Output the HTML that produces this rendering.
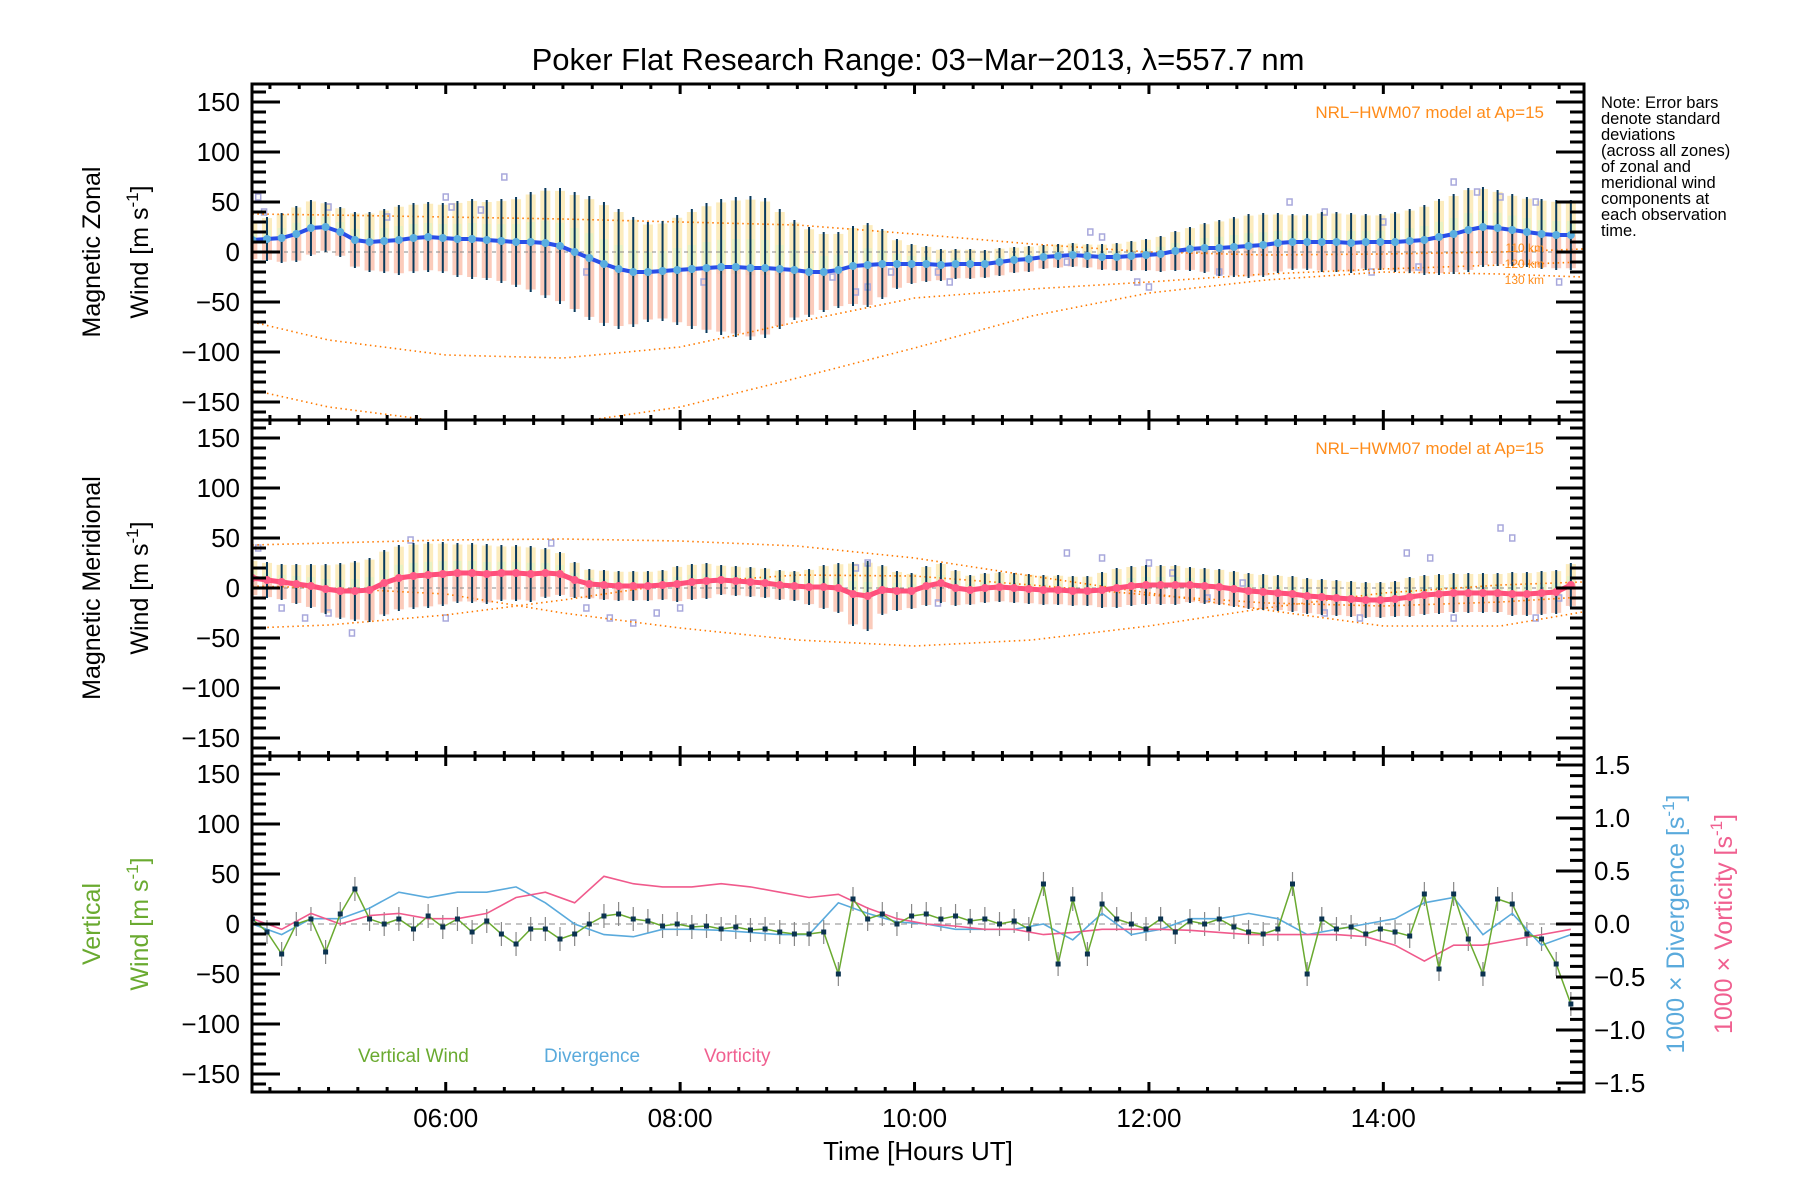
<!DOCTYPE html>
<html>
<head>
<meta charset="utf-8">
<style>
html,body{margin:0;padding:0;background:#fff;}
svg{display:block;}
text{font-family:"Liberation Sans",sans-serif;}
</style>
</head>
<body>
<svg id="chart" xmlns="http://www.w3.org/2000/svg" width="1800" height="1200" viewBox="0 0 1800 1200">
<rect x="0" y="0" width="1800" height="1200" fill="#fff"/>
<defs>
<clipPath id="c0"><rect x="252" y="84" width="1332" height="336"/></clipPath>
<clipPath id="c1"><rect x="252" y="420" width="1332" height="336"/></clipPath>
<clipPath id="c2"><rect x="252" y="756" width="1332" height="336"/></clipPath>
</defs>
<text x="918" y="70" font-size="31" text-anchor="middle">Poker Flat Research Range: 03−Mar−2013, λ=557.7 nm</text>
<g id="marks0" clip-path="url(#c0)"></g>
<g id="marks1" clip-path="url(#c1)"></g>
<g id="marks2" clip-path="url(#c2)"></g>
<g id="axes"></g>
<text transform="translate(100,252) rotate(-90)" font-size="25" text-anchor="middle">Magnetic Zonal</text>
<text transform="translate(148,252) rotate(-90)" font-size="25" text-anchor="middle">Wind [m s<tspan dy="-10" font-size="17">-1</tspan><tspan dy="10">]</tspan></text>
<text transform="translate(100,588) rotate(-90)" font-size="25" text-anchor="middle">Magnetic Meridional</text>
<text transform="translate(148,588) rotate(-90)" font-size="25" text-anchor="middle">Wind [m s<tspan dy="-10" font-size="17">-1</tspan><tspan dy="10">]</tspan></text>
<text transform="translate(100,924) rotate(-90)" font-size="25" text-anchor="middle" fill="#6aaa30">Vertical</text>
<text transform="translate(148,924) rotate(-90)" font-size="25" text-anchor="middle" fill="#6aaa30">Wind [m s<tspan dy="-10" font-size="17">-1</tspan><tspan dy="10">]</tspan></text>
<text transform="translate(1684,924) rotate(-90)" font-size="25" text-anchor="middle" fill="#5aaadc">1000 × Divergence [s<tspan dy="-10" font-size="17">-1</tspan><tspan dy="10">]</tspan></text>
<text transform="translate(1732,924) rotate(-90)" font-size="25" text-anchor="middle" fill="#f06090">1000 × Vorticity [s<tspan dy="-10" font-size="17">-1</tspan><tspan dy="10">]</tspan></text>
<text x="918" y="1160" font-size="26" text-anchor="middle">Time [Hours UT]</text>
<text x="1544" y="118" font-size="17" text-anchor="end" fill="#ff8c1a">NRL−HWM07 model at Ap=15</text>
<text x="1544" y="454" font-size="17" text-anchor="end" fill="#ff8c1a">NRL−HWM07 model at Ap=15</text>
<g font-size="16.5">
<text x="1601" y="108">Note: Error bars</text>
<text x="1601" y="124">denote standard</text>
<text x="1601" y="140">deviations</text>
<text x="1601" y="156">(across all zones)</text>
<text x="1601" y="172">of zonal and</text>
<text x="1601" y="188">meridional wind</text>
<text x="1601" y="204">components at</text>
<text x="1601" y="220">each observation</text>
<text x="1601" y="236">time.</text>
</g>
<text x="358" y="1062" font-size="19" fill="#6aaa30">Vertical Wind</text>
<text x="544" y="1062" font-size="19" fill="#5aaadc">Divergence</text>
<text x="704" y="1062" font-size="19" fill="#f06090">Vorticity</text>
<text x="1544" y="252" font-size="12" text-anchor="end" fill="#ff8c1a">110 km</text>
<text x="1544" y="268" font-size="12" text-anchor="end" fill="#ff8c1a">120 km</text>
<text x="1544" y="284" font-size="12" text-anchor="end" fill="#ff8c1a">130 km</text>
</svg>
<script>
// ---- data ----
const t0 = 4.35, dt = 0.125;
const zonalMean = [12,13,14,18,24,25,20,12,10,11,
12,14,15,14,13,13,12,11,10,10,
9,6,0,-6,-12,-17,-20,-20,-19,-18,
-17,-16,-15,-15,-16,-16,-17,-18,-20,-20,
-18,-14,-13,-12,-12,-12,-12,-13,-12,-12,
-12,-10,-8,-7,-5,-4,-3,-4,-5,-5,
-4,-3,-2,1,3,4,4,5,6,7,
9,10,10,10,10,9,10,10,10,11,
12,15,18,22,25,24,22,20,18,17,
17];
const zonalStd = [20,22,25,28,28,25,25,28,30,32,
35,35,35,35,38,40,40,42,45,50,
55,58,60,62,62,60,55,50,50,55,
60,65,68,70,72,70,60,50,45,40,
38,40,42,35,25,20,18,16,15,15,
14,14,13,13,12,12,12,12,13,14,
15,16,18,20,22,25,28,30,32,32,
30,28,28,30,30,30,28,28,30,32,
35,38,40,42,40,38,36,35,35,35,
35];
const meridMean = [10,8,6,4,2,-1,-3,-3,-2,5,
10,12,13,14,15,15,14,15,15,14,
15,14,8,4,3,2,2,2,3,4,
6,7,8,7,6,5,3,2,1,1,
0,-6,-8,-2,-3,-3,2,5,0,-2,
0,1,0,-1,-2,-2,-3,-3,-2,0,
2,3,3,3,3,2,1,-1,-3,-4,
-5,-6,-8,-9,-10,-11,-12,-12,-11,-9,
-7,-6,-5,-5,-5,-5,-6,-6,-5,-4,
3];
const meridStd = [18,18,18,20,22,25,28,30,32,33,
33,33,33,32,30,30,30,28,28,28,
25,22,18,15,15,15,15,15,15,18,
18,18,15,15,15,15,15,15,18,22,
25,32,35,25,20,18,20,20,18,15,
15,15,15,15,15,15,15,15,18,20,
20,20,20,20,18,18,18,18,18,18,
18,18,18,18,18,18,18,18,18,20,
20,20,20,20,20,20,22,22,22,22,
22];
const vertWind = [5,-8,-30,0,5,-28,10,35,5,0,
5,-5,8,-3,5,-8,3,-10,-20,-5,
-5,-15,-10,0,8,10,5,3,-2,0,
-3,-2,-5,-3,-6,-5,-8,-10,-10,-8,
-50,25,5,10,0,8,10,5,8,3,
5,0,3,-5,40,-40,25,-30,20,5,
0,-5,5,-8,3,0,5,-3,-8,-10,
-5,40,-50,5,-5,-3,-10,-5,-8,-12,
30,-45,30,-15,-50,25,20,-10,-15,-40,
-80];
const dt2 = 0.25;
const divergence = [0,-0.1,0.05,0.05,0.15,0.3,0.25,0.3,0.3,0.35,
0.2,0,-0.1,-0.12,-0.05,-0.05,-0.06,-0.08,-0.1,-0.1,
0.2,0.1,0.02,0,-0.05,-0.05,-0.05,0,-0.15,0.1,
-0.1,-0.05,0.05,0.05,0.1,0.05,-0.1,-0.05,0,0.05,
0.2,0.25,-0.1,0.1,-0.2,-0.1];
const vorticity = [0.05,-0.05,0.1,0,0.08,0.1,0.05,0.05,0.1,0.25,
0.3,0.2,0.45,0.38,0.35,0.35,0.38,0.35,0.3,0.25,
0.28,0.15,0.05,0,-0.02,-0.05,-0.05,-0.1,-0.08,-0.05,
-0.05,-0.05,-0.06,-0.08,-0.1,-0.1,-0.1,-0.1,-0.12,-0.2,
-0.35,-0.2,-0.2,-0.15,-0.1,-0.05];
const modelHours = [4.35,5,6,7,8,9,10,11,12,13,14,15,15.7];
const zonalModel110 = [38,37,35,33,30,27,18,8,0,-3,-2,0,3];
const zonalModel120 = [-70,-88,-103,-106,-95,-70,-46,-37,-30,-22,-17,-13,-10];
const zonalModel130 = [-138,-155,-170,-172,-155,-126,-96,-64,-41,-28,-20,-22,-25];
const meridModelA = [43,45,48,49,47,42,30,12,-5,-22,-38,-38,-24];
const meridModelB = [-40,-37,-27,-12,5,13,12,3,-7,-15,-18,-14,-9];
const meridModelC = [2,0,-6,-25,-40,-52,-58,-52,-38,-20,-5,3,6];
const zonalScatterT = [4.4,4.45,5.0,5.5,6.0,6.05,6.5,6.3,7.2,8.2,9.3,9.5,9.6,10.2,11.3,11.5,11.6,11.9,12.0,12.6,13.2,13.5,14.0,14.3,14.6,14.8,15.0,15.3,15.5,13.9,10.3,9.8];
const zonalScatterV = [55,40,45,35,55,45,75,42,-20,-30,-25,-40,-35,-20,-10,20,15,-30,-35,-20,50,40,30,-15,70,60,55,50,-30,-20,-30,-20];
const meridScatterT = [4.4,4.6,4.8,5.0,5.2,5.7,6.0,6.9,7.2,7.4,7.6,7.8,8.0,9.5,9.6,10.2,11.3,11.6,12.0,12.2,12.5,12.8,13.5,13.8,14.2,14.4,14.6,15.0,15.1,15.3,15.5];
const meridScatterV = [40,-20,-30,-25,-45,48,-30,45,-20,-30,-35,-25,-20,20,25,-15,35,30,25,15,-10,5,-25,-30,35,30,-30,60,50,-30,-10];
const xTickHours = [6,8,10,12,14];
const xTickLabels = ["06:00","08:00","10:00","12:00","14:00"];
const yTickValues = [-150,-100,-50,0,50,100,150];
const rTickValues = [-1.5,-1.0,-0.5,0.0,0.5,1.0,1.5];

// ---- scales ----
const X0 = 252, X1 = 1584, TMIN = 4.347, PXH = 117.2;
const PT = [84, 420, 756], PH = 336;
function xs(t){ return X0 + (t - TMIN) * PXH; }
function ys(p, v){ return PT[p] + PH/2 - v; }
function yr(v){ return PT[2] + PH/2 - v * 106; }
const NS = "http://www.w3.org/2000/svg";
function mk(tag, attrs, parent){
  const e = document.createElementNS(NS, tag);
  for (const k in attrs) e.setAttribute(k, attrs[k]);
  parent.appendChild(e);
  return e;
}
const axes = document.getElementById('axes');
const M = [document.getElementById('marks0'), document.getElementById('marks1'), document.getElementById('marks2')];

function windPanel(p, mean, std, scT, scV, models, lineColor, dotColor, lw){
  const g = M[p];
  // background zone bars
  for (let i = 0; i < mean.length; i++){
    const x = xs(t0 + i*dt);
    const s = std[i], m = mean[i];
    let r = mk('rect', {x: x-5, y: ys(p, m + s*0.95), width: 10, height: s*0.95, fill:'#fbe6a8', opacity:0.75}, g);
    
    
    r = mk('rect', {x: x-4, y: ys(p, m + s*0.4), width: 8, height: s*0.5, fill:'#d8f5c8', opacity:0.6}, g);
    
    
    r = mk('rect', {x: x-5, y: ys(p, m), width: 10, height: s*0.95, fill:'#f9b9a4', opacity:0.75}, g);
    
    
  }
  // scatter squares
  for (let i = 0; i < scT.length; i++){
    const r = mk('rect', {x: xs(scT[i])-2.5, y: ys(p, scV[i])-3, width:5, height:6, fill:'none', stroke:'#a8a8dc', 'stroke-width':1.5}, g);
    
    
  }
  // zero line
  const z = mk('line', {x1:X0, x2:X1, y1:ys(p,0), y2:ys(p,0), stroke:'#888', 'stroke-dasharray':'4,4', 'stroke-width':1}, g);
  
  
  // models
  models.forEach(function(mv, k){
    const pts = modelHours.map(function(h, j){ return xs(h)+','+ys(p, mv[j]); }).join(' ');
    const pl = mk('polyline', {points: pts, fill:'none', stroke:'#ff7a00', 'stroke-width':1.6, 'stroke-dasharray':'1.5,3.5'}, g);
    
    
  });
  // error bars
  for (let i = 0; i < mean.length; i++){
    const x = xs(t0 + i*dt);
    const l = mk('line', {x1:x, x2:x, y1: ys(p, mean[i]+std[i]), y2: ys(p, mean[i]-std[i]), stroke:'#0a3a5c', 'stroke-width':2}, g);
    
    
  }
  // mean line
  const pts = mean.map(function(v, i){ return xs(t0+i*dt)+','+ys(p, v); }).join(' ');
  const ml = mk('polyline', {points: pts, fill:'none', stroke: lineColor, 'stroke-width': lw, 'stroke-linejoin':'round'}, g);
  
  
  for (let i = 0; i < mean.length; i++){
    const c = mk('circle', {cx: xs(t0+i*dt), cy: ys(p, mean[i]), r: 4, fill: dotColor}, g);
    
    
  }
}
windPanel(0, zonalMean, zonalStd, zonalScatterT, zonalScatterV, [zonalModel110, zonalModel120, zonalModel130], '#2a4ee8', '#5aaee0', 4);
windPanel(1, meridMean, meridStd, meridScatterT, meridScatterV, [meridModelC, meridModelB, meridModelA], '#ff4f7a', '#ff5a86', 5);

// vertical panel
(function(){
  const g = M[2];
  const z = mk('line', {x1:X0, x2:X1, y1:ys(2,0), y2:ys(2,0), stroke:'#888', 'stroke-dasharray':'6,5', 'stroke-width':1}, g);
  
  
  for (let i = 0; i < vertWind.length; i++){
    const x = xs(t0+i*dt);
    const l = mk('line', {x1:x, x2:x, y1: ys(2, vertWind[i]+12), y2: ys(2, vertWind[i]-12), stroke:'#888', 'stroke-width':1.2}, g);
    
    
  }
  let pts = divergence.map(function(v, i){ return xs(t0+i*dt2)+','+yr(v); }).join(' ');
  let pl = mk('polyline', {points: pts, fill:'none', stroke:'#5aaadc', 'stroke-width':1.6}, g);
  
  
  pts = vorticity.map(function(v, i){ return xs(t0+i*dt2)+','+yr(v); }).join(' ');
  pl = mk('polyline', {points: pts, fill:'none', stroke:'#f05a8c', 'stroke-width':1.6}, g);
  
  
  pts = vertWind.map(function(v, i){ return xs(t0+i*dt)+','+ys(2, v); }).join(' ');
  pl = mk('polyline', {points: pts, fill:'none', stroke:'#6aaa30', 'stroke-width':1.5}, g);
  
  
  for (let i = 0; i < vertWind.length; i++){
    const r = mk('rect', {x: xs(t0+i*dt)-2.5, y: ys(2, vertWind[i])-2.5, width:5, height:5, fill:'#0b3350'}, g);
    
    
  }
})();

// axes
for (let p = 0; p < 3; p++){
  const top = PT[p], bot = PT[p] + PH;
  const fr = mk('rect', {x:X0, y:top, width:X1-X0, height:PH, fill:'none', stroke:'#000', 'stroke-width':3}, axes);
  
  
  // x minor/major ticks
  for (let q = Math.ceil(TMIN*4); q <= 15.71*4; q++){
    const h = q/4, x = xs(h);
    const major = (q % 8 === 0);
    const len = major ? 10 : 5;
    mk('line', {x1:x, x2:x, y1:top, y2:top+len, stroke:'#000', 'stroke-width':3}, axes);
    mk('line', {x1:x, x2:x, y1:bot, y2:bot-len, stroke:'#000', 'stroke-width':3}, axes);
  }
  // y ticks
  for (let v = -160; v <= 160; v += 10){
    const y = ys(p, v), major = (v % 50 === 0);
    const len = major ? 28 : 14;
    mk('line', {x1:X0, x2:X0+len, y1:y, y2:y, stroke:'#000', 'stroke-width':3}, axes);
    if (p < 2) mk('line', {x1:X1, x2:X1-len, y1:y, y2:y, stroke:'#000', 'stroke-width':3}, axes);
  }
  yTickValues.forEach(function(v){
    const t = mk('text', {x:240, y: ys(p, v)+9, 'font-size':26, 'text-anchor':'end'}, axes);
    t.textContent = String(v).replace('-', '−');
    
    
  });
}
// right axis ticks panel 3
for (let k = -15; k <= 15; k++){
  const y = yr(k/10), major = (k % 5 === 0);
  mk('line', {x1:X1, x2:X1-(major?28:14), y1:y, y2:y, stroke:'#000', 'stroke-width':3}, axes);
}
rTickValues.forEach(function(v){
  const t = mk('text', {x:1594, y: yr(v)+9, 'font-size':26}, axes);
  t.textContent = v.toFixed(1).replace('-', '−');
  
  
});
xTickHours.forEach(function(h, i){
  const t = mk('text', {x: xs(h), y: 1127, 'font-size':26, 'text-anchor':'middle'}, axes);
  t.textContent = xTickLabels[i];
  
  
});
</script>
</body>
</html>
